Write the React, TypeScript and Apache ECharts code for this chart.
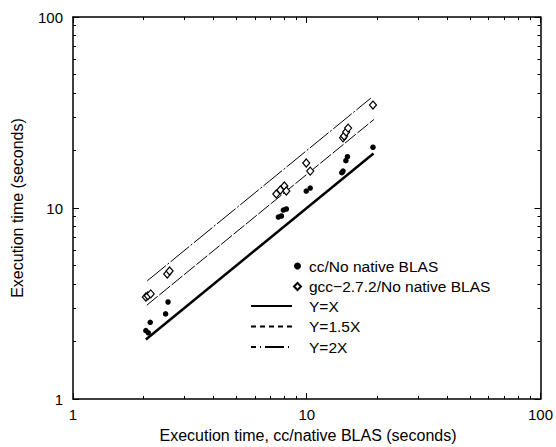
import React, { useEffect, useRef } from "react";
import * as echarts from "echarts";

// cc/No native BLAS (filled dots)
const ccX = [2.05, 2.1, 2.14, 2.49, 2.55, 7.56, 7.79, 7.94, 8.18, 9.95, 10.35, 14.13, 14.3, 14.7, 14.93, 19.2];
const ccY = [2.28, 2.22, 2.52, 2.79, 3.22, 8.97, 9.08, 9.76, 9.88, 12.27, 12.72, 15.3, 15.6, 17.7, 18.56, 20.8];
// gcc-2.7.2/No native BLAS (open diamonds)
const gccX = [2.05, 2.09, 2.15, 2.53, 2.59, 7.41, 7.71, 8.02, 8.18, 9.95, 10.35, 14.3, 14.45, 14.74, 15.03, 19.2];
const gccY = [3.42, 3.47, 3.55, 4.51, 4.68, 11.84, 12.42, 13.04, 12.27, 17.2, 15.6, 23.3, 23.8, 25.0, 26.2, 34.6];
// reference lines (end points)
const lineXeqX = [2.05, 19.3];
const lineYeqX = [2.05, 19.3];
const lineX15 = [2.07, 19.4];
const lineY15 = [3.1, 29.1];
const lineX2 = [2.08, 18.8];
const lineY2 = [4.16, 37.6];

const seriesNames = [
  "cc/No native BLAS",
  "gcc\u22122.7.2/No native BLAS",
  "Y=X",
  "Y=1.5X",
  "Y=2X",
];
const xAxisName = "Execution time, cc/native BLAS (seconds)";
const yAxisName = "Execution time (seconds)";

const zip = (a: number[], b: number[]) => a.map((v, i) => [v, b[i]]);

function axisBase(pos: string, showLabel: boolean) {
  return {
    type: "log",
    logBase: 10,
    min: 1,
    max: 100,
    position: pos,
    axisLine: { show: true, onZero: false, lineStyle: { color: "#000", width: 1.5 } },
    axisTick: { show: true, inside: true, length: 6, lineStyle: { color: "#000", width: 1 } },
    minorTick: { show: true, splitNumber: 9, length: 3, lineStyle: { color: "#000", width: 1 } },
    splitLine: { show: false },
    minorSplitLine: { show: false },
    axisLabel: {
      show: showLabel,
      color: "#000",
      fontSize: 15,
    },
  } as any;
}

const hiddenSymbol = { color: "rgba(0,0,0,0)", borderWidth: 0, opacity: 0 };

export default function App() {
  const ref = useRef<HTMLDivElement>(null);
  useEffect(() => {
    if (!ref.current) return;
    const chart = echarts.init(ref.current, null, { renderer: "svg" });
    const xBottom = axisBase("bottom", true);
    xBottom.axisLabel.margin = 8;
    const yLeft = axisBase("left", true);
    yLeft.axisLabel.margin = 10;

    const option: any = {
      animation: false,
      backgroundColor: "#fff",
      grid: { left: 73, right: 14, top: 17, bottom: 48 },
      xAxis: [xBottom, axisBase("top", false)],
      yAxis: [yLeft, axisBase("right", false)],
      graphic: [
        {
          type: "text",
          x: 308,
          y: 435,
          style: {
            text: xAxisName,
            fill: "#000",
            fontSize: 16,
            align: "center",
            verticalAlign: "middle",
          },
        },
        {
          type: "text",
          x: 17,
          y: 208,
          rotation: Math.PI / 2,
          style: {
            text: yAxisName,
            fill: "#000",
            fontSize: 16,
            align: "center",
            verticalAlign: "middle",
          },
        },
      ],
      legend: [
        {
          data: [seriesNames[0], seriesNames[1]],
          orient: "vertical",
          left: 293,
          top: 258,
          padding: 0,
          itemWidth: 7,
          itemHeight: 7,
          itemGap: 4.5,
          textStyle: { color: "#000", fontSize: 15.5, padding: [0, 0, 0, 3] },
        },
        {
          data: [
            { name: seriesNames[2], itemStyle: hiddenSymbol },
            { name: seriesNames[3], itemStyle: hiddenSymbol, lineStyle: { type: [5, 4] } },
            { name: seriesNames[4], itemStyle: hiddenSymbol, lineStyle: { type: [5, 4, 1, 4, 14, 0] } },
          ],
          orient: "vertical",
          left: 250,
          top: 298,
          padding: 0,
          itemWidth: 41,
          itemHeight: 14,
          itemGap: 4.5,
          itemStyle: hiddenSymbol,
          textStyle: { color: "#000", fontSize: 15.5, padding: [0, 0, 0, 12] },
        },
      ],
      series: [
        {
          name: seriesNames[0],
          type: "scatter",
          data: zip(ccX, ccY),
          symbol: "circle",
          symbolSize: 5.5,
          itemStyle: { color: "#000", opacity: 1 },
          z: 5,
        },
        {
          name: seriesNames[1],
          type: "scatter",
          data: zip(gccX, gccY),
          symbol: "diamond",
          symbolSize: [7, 8],
          itemStyle: { color: "#fff", borderColor: "#000", borderWidth: 1.2, opacity: 1 },
          z: 5,
        },
        {
          name: seriesNames[2],
          type: "line",
          data: zip(lineXeqX, lineYeqX),
          symbol: "none",
          itemStyle: { color: "#000" },
          lineStyle: { color: "#000", width: 2.5, type: "solid" },
        },
        {
          name: seriesNames[3],
          type: "line",
          data: zip(lineX15, lineY15),
          symbol: "none",
          itemStyle: { color: "#000" },
          lineStyle: { color: "#000", width: 1, type: [14, 2] },
        },
        {
          name: seriesNames[4],
          type: "line",
          data: zip(lineX2, lineY2),
          symbol: "none",
          itemStyle: { color: "#000" },
          lineStyle: { color: "#000", width: 1, type: [24, 2, 2, 2] },
        },
      ],
    };
    chart.setOption(option);
    return () => chart.dispose();
  }, []);
  return (
    <div
      ref={ref}
      style={{ position: "absolute", left: 0, top: 0, width: 556, height: 447 }}
    />
  );
}
